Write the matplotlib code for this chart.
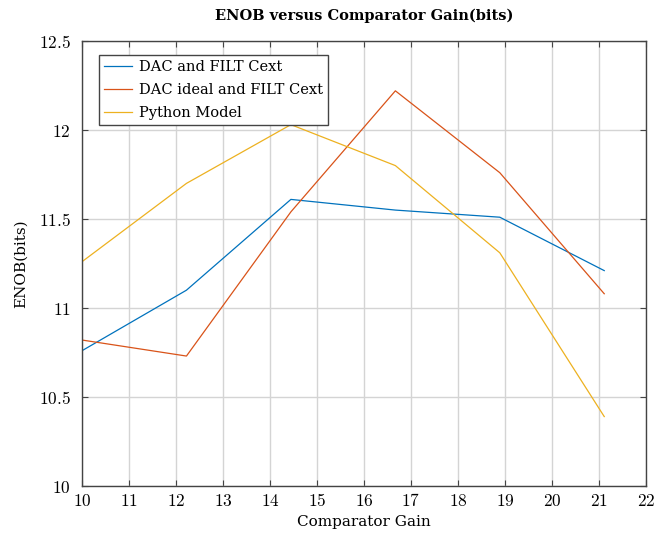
import matplotlib
matplotlib.use("Agg")
import matplotlib.pyplot as plt
from matplotlib.ticker import FuncFormatter, MultipleLocator

# Comparator gain sweep and measured/simulated ENOB
gain = [10.0, 12.222, 14.444, 16.667, 18.889, 21.111]
enob_dac_filt = [10.76, 11.10, 11.61, 11.55, 11.51, 11.21]
enob_dac_ideal = [10.82, 10.73, 11.54, 12.22, 11.76, 11.08]
enob_python = [11.26, 11.70, 12.03, 11.80, 11.31, 10.39]

series_labels = ["DAC and FILT Cext", "DAC ideal and FILT Cext", "Python Model"]
colors = ["#0072BD", "#D95319", "#EDB120"]

plt.rcParams["mathtext.fontset"] = "cm"
serif = "DejaVu Serif"

fig = plt.figure(figsize=(6.54, 5.35), dpi=100)
ax = fig.add_axes([0.1254, 0.0916, 0.8624, 0.8318])

for y, lab, c in zip([enob_dac_filt, enob_dac_ideal, enob_python], series_labels, colors):
    ax.plot(gain, y, color=c, lw=0.9, label=lab)

ax.set_xlim(10, 22)
ax.set_ylim(10, 12.5)
ax.xaxis.set_major_locator(MultipleLocator(1))
ax.yaxis.set_major_locator(MultipleLocator(0.5))
fmt = FuncFormatter(lambda v, p: f"${v:g}$")
ax.xaxis.set_major_formatter(fmt)
ax.yaxis.set_major_formatter(fmt)
ax.tick_params(direction="in", top=True, right=True, length=4, width=0.8,
               color="#444444", labelsize=12.5)
ax.tick_params(axis="y", pad=8)
ax.tick_params(axis="x", pad=4)
ax.grid(True, color="#d4d4d4", lw=1.0)
ax.set_axisbelow(True)
for s in ax.spines.values():
    s.set_color("#444444")
    s.set_linewidth(1.0)

ax.set_title("ENOB versus Comparator Gain(bits)", fontfamily=serif,
             fontweight="bold", fontsize=10.5, pad=15)
ax.set_xlabel("Comparator Gain", fontfamily=serif, fontsize=11, labelpad=4)
ax.set_ylabel("ENOB(bits)", fontfamily=serif, fontsize=11, labelpad=8)

leg = ax.legend(loc="upper left", bbox_to_anchor=(0.030, 0.969),
                borderaxespad=0,
                prop={"family": serif, "size": 10.5}, fancybox=False,
                framealpha=1, edgecolor="#444444", handlelength=1.9,
                borderpad=0.35, labelspacing=0.62, handletextpad=0.5)
leg.get_frame().set_linewidth(1.0)

fig.savefig("out.png", dpi=100)
